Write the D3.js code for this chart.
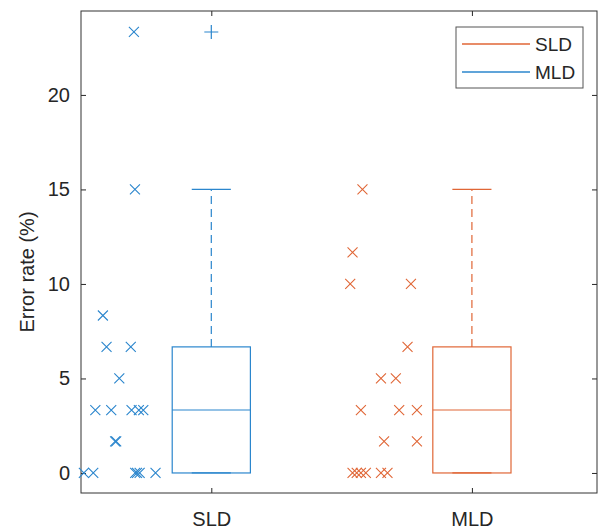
<!DOCTYPE html>
<html>
<head>
<meta charset="utf-8">
<script src="https://cdn.jsdelivr.net/npm/d3@7"></script>
<style>
  body { margin: 0; background: #fff; }
  text { font-family: "Liberation Sans", Arial, sans-serif; fill: #262626; }
</style>
</head>
<body>
<div id="chart"></div>
<script>
// Categories on the x axis.
const groups = ["SLD", "MLD"];
const yTicks = [0, 5, 10, 15, 20];

// Box summary per group.
const boxQ1 = [0, 0];
const boxMedian = [3.33, 3.33];
const boxQ3 = [6.67, 6.67];
const whiskerLow = [0, 0];
const whiskerHigh = [15, 15];
const outliers = [[23.33], []];

// Jittered raw points next to the first box (blue).
const blueVals = [23.33, 15, 8.33, 6.67, 6.67, 5, 3.33, 3.33, 3.33, 3.33, 3.33,
                  1.67, 1.67, 0, 0, 0, 0, 0, 0];
const blueX = [0.703, 0.707, 0.584, 0.598, 0.691, 0.647, 0.555, 0.616, 0.694, 0.722, 0.739,
               0.631, 0.635, 0.511, 0.547, 0.708, 0.715, 0.725, 0.786];

// Jittered raw points next to the second box (orange).
const orangeVals = [15, 11.67, 10, 10, 6.67, 5, 5, 3.33, 3.33, 3.33, 1.67, 1.67,
                    0, 0, 0, 0, 0, 0];
const orangeX = [1.580, 1.542, 1.533, 1.766, 1.753, 1.651, 1.708, 1.574, 1.721, 1.789, 1.663, 1.789,
                 1.542, 1.558, 1.574, 1.593, 1.651, 1.676];

// Legend entries (as in the original figure).
const legendLabels = ["SLD", "MLD"];

const blue = "#2b86cd";
const orange = "#e06636";
const boxColors = [blue, orange];
const legendColors = [orange, blue];

const width = 600, height = 530;
const plot = { left: 81, right: 597, top: 11, bottom: 493 };

const svg = d3.select("#chart").append("svg")
  .attr("width", width)
  .attr("height", height);

const x = d3.scaleLinear().domain([0.5, 2.48]).range([plot.left, plot.right]);
const y = d3.scaleLinear().domain([-1.06, 24.44]).range([plot.bottom, plot.top]);

const boxW = 0.3;

// Axes with inward ticks, mirrored on top/right like the original.
svg.append("g")
  .attr("transform", `translate(${plot.left},0)`)
  .call(d3.axisLeft(y).tickValues(yTicks).tickSize(-5).tickPadding(11))
  .call(g => g.selectAll("text").style("font-size", "20px"));
svg.append("g")
  .attr("transform", `translate(${plot.right},0)`)
  .call(d3.axisRight(y).tickValues(yTicks).tickSize(-5).tickFormat(""));
svg.append("g")
  .attr("transform", `translate(0,${plot.bottom})`)
  .call(d3.axisBottom(x).tickValues([1, 2]).tickFormat(d => groups[d - 1]).tickSize(-5).tickPadding(19))
  .call(g => g.selectAll("text").style("font-size", "20px"));
svg.append("g")
  .attr("transform", `translate(0,${plot.top})`)
  .call(d3.axisTop(x).tickValues([1, 2]).tickSize(-5).tickFormat(""));

svg.selectAll(".domain").remove();
svg.selectAll(".tick line").attr("stroke", "#262626");

svg.append("rect")
  .attr("x", plot.left).attr("y", plot.top)
  .attr("width", plot.right - plot.left)
  .attr("height", plot.bottom - plot.top)
  .attr("fill", "none")
  .attr("stroke", "#333")
  .attr("stroke-width", 1);

// Y label.
svg.append("text")
  .attr("transform", "translate(34,272) rotate(-90)")
  .attr("text-anchor", "middle")
  .style("font-size", "20px")
  .text("Error rate (%)");

// Cross markers.
const cross = "M-5,-5L5,5M-5,5L5,-5";
function drawCrosses(xs, vals, color) {
  svg.append("g").selectAll("path")
    .data(vals.map((v, i) => [xs[i], v]))
    .enter().append("path")
    .attr("d", cross)
    .attr("transform", d => `translate(${x(d[0])},${y(d[1])})`)
    .attr("fill", "none")
    .attr("stroke", color)
    .attr("stroke-width", 1.1);
}
drawCrosses(blueX, blueVals, blue);
drawCrosses(orangeX, orangeVals, orange);

// Box plots.
groups.forEach((g, i) => {
  const pos = i + 1;
  const c = boxColors[i];
  const bg = svg.append("g").attr("fill", "none").attr("stroke", c).attr("stroke-width", 1.2);

  bg.append("rect")
    .attr("x", x(pos - boxW / 2))
    .attr("y", y(boxQ3[i]))
    .attr("width", x(pos + boxW / 2) - x(pos - boxW / 2))
    .attr("height", y(boxQ1[i]) - y(boxQ3[i]));

  bg.append("line")
    .attr("x1", x(pos - boxW / 2)).attr("x2", x(pos + boxW / 2))
    .attr("y1", y(boxMedian[i])).attr("y2", y(boxMedian[i]));

  // Whiskers (dashed) and caps.
  bg.append("line")
    .attr("x1", x(pos)).attr("x2", x(pos))
    .attr("y1", y(boxQ3[i])).attr("y2", y(whiskerHigh[i]))
    .attr("stroke-dasharray", "8,5");
  bg.append("line")
    .attr("x1", x(pos)).attr("x2", x(pos))
    .attr("y1", y(boxQ1[i])).attr("y2", y(whiskerLow[i]))
    .attr("stroke-dasharray", "8,5");
  [whiskerHigh[i], whiskerLow[i]].forEach(v => {
    bg.append("line")
      .attr("x1", x(pos - boxW / 4)).attr("x2", x(pos + boxW / 4))
      .attr("y1", y(v)).attr("y2", y(v));
  });

  // Outliers as plus signs.
  bg.selectAll(".out")
    .data(outliers[i])
    .enter().append("path")
    .attr("class", "out")
    .attr("d", "M-7,0L7,0M0,-7L0,7")
    .attr("transform", d => `translate(${x(pos)},${y(d)})`);
});

// Legend.
const leg = svg.append("g");
leg.append("rect")
  .attr("x", 456).attr("y", 27)
  .attr("width", 127).attr("height", 61)
  .attr("fill", "#fff")
  .attr("stroke", "#555");
legendLabels.forEach((lab, i) => {
  const ly = 44 + i * 28;
  leg.append("line")
    .attr("x1", 462).attr("x2", 530)
    .attr("y1", ly).attr("y2", ly)
    .attr("stroke", legendColors[i])
    .attr("stroke-width", 1.5);
  leg.append("text")
    .attr("x", 535).attr("y", ly)
    .attr("dy", "0.35em")
    .style("font-size", "19px")
    .text(lab);
});
</script>
</body>
</html>
